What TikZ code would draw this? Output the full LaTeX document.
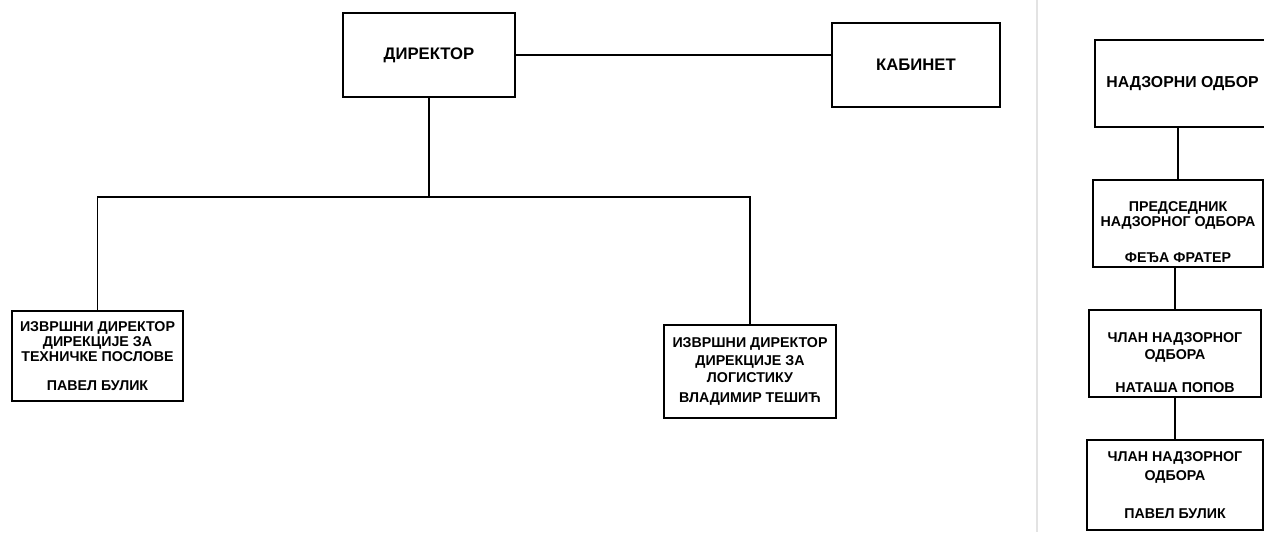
\documentclass[tikz,border=0pt]{standalone}
\usepackage{fontspec}
\setmainfont{Liberation Sans}
\usetikzlibrary{positioning,calc}
\tikzset{
	orgbox/.style={draw,line width=1pt,align=center,inner sep=2pt,font=\bfseries\fontsize{8.1}{8.4}\selectfont},
	bigbox/.style={orgbox,font=\bfseries\fontsize{9.5}{11}\selectfont},
	conn/.style={color=black,line width=0.6pt},
	sepline/.style={color=gray!22,line width=1.2pt}
}

\begin{document}
\begin{tikzpicture}
	\useasboundingbox (0,0) rectangle (25.28,-10.64);
	\clip (0,0) rectangle (25.28,-10.64);
	
	%%%top
	\node[bigbox,minimum width=3.44cm,minimum height=1.68cm] (dir) at (8.58,-1.10) {ДИРЕКТОР};
	\node[bigbox,minimum width=3.36cm,minimum height=1.68cm] (kab) at (18.32,-1.30) {КАБИНЕТ};
	
	%%%izvrsni direktori
	\node[orgbox,minimum width=3.42cm,minimum height=1.80cm] (izvTeh) at (1.95,-7.12) {ИЗВРШНИ ДИРЕКТОР\\ДИРЕКЦИЈЕ ЗА\\ТЕХНИЧКЕ ПОСЛОВЕ\\[8pt]ПАВЕЛ БУЛИК};
	\node[orgbox,minimum width=3.44cm,minimum height=1.86cm] (izvLog) at (15.00,-7.43) {ИЗВРШНИ ДИРЕКТОР\\[1.5pt]ДИРЕКЦИЈЕ ЗА\\[1.5pt]ЛОГИСТИКУ\\[3pt]ВЛАДИМИР ТЕШИЋ};
	\coordinate (bus) at (8.58,-3.94);
	
	\draw[conn] (dir.east) -- (dir.east -| kab.west);
	\draw[conn] (dir.south) -- (bus);
	\draw[conn] (izvTeh.north) |- (bus) -| (izvLog.north);
	
	%%%separator
	\draw[sepline] (20.74,0) -- (20.74,-10.64);
	
	%%%nadzorni odbor
	\node[bigbox,font=\bfseries\fontsize{9}{11}\selectfont,minimum width=3.5cm,minimum height=1.74cm] (nadOdb) at (23.65,-1.67) {НАДЗОРНИ ОДБОР};
	\node[orgbox,minimum width=3.40cm,minimum height=1.74cm] (predNO) at (23.56,-4.47) {\rule{0pt}{0.55cm}ПРЕДСЕДНИК\\НАДЗОРНОГ ОДБОРА\\[12pt]ФЕЂА ФРАТЕР};
	\node[orgbox,minimum width=3.44cm,minimum height=1.74cm] (clan1) at (23.50,-7.07) {\rule{0pt}{0.55cm}ЧЛАН НАДЗОРНОГ\\[1.5pt]ОДБОРА\\[10pt]НАТАША ПОПОВ};
	\node[orgbox,minimum width=3.52cm,minimum height=1.80cm] (clan2) at (23.50,-9.70) {ЧЛАН НАДЗОРНОГ\\[2.5pt]ОДБОРА\\[13pt]ПАВЕЛ БУЛИК};
	
	\draw[conn] (predNO.north) -- (predNO.north |- nadOdb.south);
	\draw[conn] (predNO.south) -- (predNO.south -| clan1.north) -- (clan1.north);
	\draw[conn] (clan1.south) -- (clan2.north);
\end{tikzpicture}
\end{document}
